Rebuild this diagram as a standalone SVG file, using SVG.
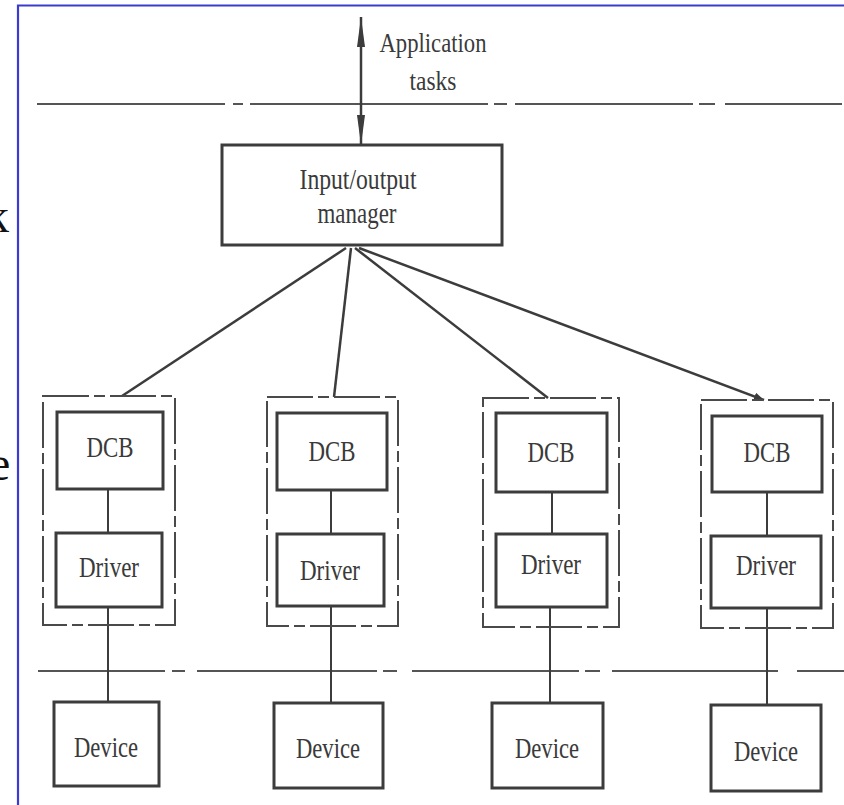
<svg xmlns="http://www.w3.org/2000/svg" width="844" height="805" viewBox="0 0 844 805">
  <style>
    .bg { fill: #ffffff; }
    .frame { stroke: #3b3bcf; stroke-width: 2.2; fill: none; }
    .box { fill: none; stroke: #3c3c3c; stroke-width: 3; }
    .group { fill: none; stroke: #4a4a4a; stroke-width: 2; stroke-dasharray: 46 5 11 5; }
    .rule { fill: none; stroke: #555555; stroke-width: 2.2; }
    .wire { fill: none; stroke: #3c3c3c; stroke-width: 2.5; }
    .link { fill: none; stroke: #3c3c3c; stroke-width: 2; }
    .lbl { font-family: "Liberation Serif", "Times New Roman", serif; fill: #3a3a3a; text-anchor: middle; }
    .big { font-family: "Liberation Serif", "Times New Roman", serif; fill: #111111; font-size: 48px; }
  </style>
  <defs>
    <marker id="head" viewBox="0 0 30 8" refX="30" refY="4" markerWidth="30" markerHeight="8" markerUnits="userSpaceOnUse" orient="auto-start-reverse">
      <path d="M0,0 L30,4 L0,8 Z" fill="#3c3c3c"/>
    </marker>
    <marker id="tick" viewBox="0 0 10 8" refX="10" refY="4" markerWidth="10" markerHeight="8" markerUnits="userSpaceOnUse" orient="auto">
      <path d="M0,0 L10,4 L0,8 Z" fill="#3c3c3c"/>
    </marker>
  </defs>

  <rect class="bg" x="0" y="0" width="844" height="805"/>

  <!-- page frame and clipped margin letters -->
  <path class="frame" d="M18,805 V5.5 H844"/>
  <text class="big" x="-15" y="232">k</text>
  <text class="big" x="-11" y="480">e</text>

  <!-- layer boundaries -->
  <path class="rule" d="M37,104 H225 M233,104 H243 M250,104 H488 M494,104 H507 M515,104 H693 M699,104 H715 M725,104 H842"/>
  <path class="rule" d="M38,671 H165 M172,671 H185 M197,671 H377 M383,671 H397 M412,671 H579 M585,671 H600 M612,671 H778 M797,671 H844"/>

  <!-- connectors -->
  <g id="connectors">
    <line class="wire" x1="361" y1="17" x2="361" y2="145" marker-start="url(#head)" marker-end="url(#head)"/>
    <line class="wire" x1="346" y1="248" x2="122" y2="396"/>
    <line class="wire" x1="351" y1="248" x2="334" y2="397"/>
    <line class="wire" x1="355" y1="248" x2="548" y2="398"/>
    <line class="wire" x1="359" y1="248" x2="764" y2="400" marker-end="url(#tick)"/>
    <line class="link" x1="108" y1="489" x2="108" y2="533"/>
    <line class="link" x1="108" y1="607" x2="108" y2="702"/>
    <line class="link" x1="331" y1="490" x2="331" y2="534"/>
    <line class="link" x1="331" y1="606" x2="331" y2="703"/>
    <line class="link" x1="552" y1="492" x2="552" y2="534"/>
    <line class="link" x1="550" y1="607" x2="550" y2="703"/>
    <line class="link" x1="767" y1="492" x2="767" y2="536"/>
    <line class="link" x1="767" y1="608" x2="767" y2="705"/>
  </g>

  <!-- top labels -->
  <g id="application-tasks">
    <text class="lbl" x="433" y="52" font-size="28" textLength="107" lengthAdjust="spacingAndGlyphs">Application</text>
    <text class="lbl" x="433" y="90" font-size="28" textLength="47" lengthAdjust="spacingAndGlyphs">tasks</text>
  </g>

  <g id="io-manager">
    <rect class="box" x="222" y="145" width="280" height="100"/>
    <text class="lbl" x="358" y="189" font-size="29" textLength="117" lengthAdjust="spacingAndGlyphs">Input/output</text>
    <text class="lbl" x="357" y="223" font-size="29" textLength="79" lengthAdjust="spacingAndGlyphs">manager</text>
  </g>

  <!-- device handler groups -->
  <g id="handler-1">
    <rect class="group" x="43" y="396" width="132" height="229"/>
    <g id="dcb-1">
      <rect class="box" x="57" y="412" width="106" height="77"/>
      <text class="lbl" x="110" y="457" font-size="30" textLength="47" lengthAdjust="spacingAndGlyphs">DCB</text>
    </g>
    <g id="driver-1">
      <rect class="box" x="56" y="533" width="106" height="74"/>
      <text class="lbl" x="109" y="577" font-size="30" textLength="60" lengthAdjust="spacingAndGlyphs">Driver</text>
    </g>
  </g>

  <g id="handler-2">
    <rect class="group" x="267" y="397" width="131" height="229"/>
    <g id="dcb-2">
      <rect class="box" x="277" y="413" width="110" height="77"/>
      <text class="lbl" x="332" y="461" font-size="30" textLength="47" lengthAdjust="spacingAndGlyphs">DCB</text>
    </g>
    <g id="driver-2">
      <rect class="box" x="277" y="534" width="107" height="72"/>
      <text class="lbl" x="330" y="580" font-size="30" textLength="60" lengthAdjust="spacingAndGlyphs">Driver</text>
    </g>
  </g>

  <g id="handler-3">
    <rect class="group" x="483" y="398" width="136" height="229"/>
    <g id="dcb-3">
      <rect class="box" x="496" y="413" width="111" height="79"/>
      <text class="lbl" x="551" y="462" font-size="30" textLength="47" lengthAdjust="spacingAndGlyphs">DCB</text>
    </g>
    <g id="driver-3">
      <rect class="box" x="496" y="534" width="111" height="73"/>
      <text class="lbl" x="551" y="574" font-size="30" textLength="60" lengthAdjust="spacingAndGlyphs">Driver</text>
    </g>
  </g>

  <g id="handler-4">
    <rect class="group" x="701" y="400" width="132" height="228"/>
    <g id="dcb-4">
      <rect class="box" x="712" y="416" width="110" height="76"/>
      <text class="lbl" x="767" y="462" font-size="30" textLength="47" lengthAdjust="spacingAndGlyphs">DCB</text>
    </g>
    <g id="driver-4">
      <rect class="box" x="711" y="536" width="110" height="72"/>
      <text class="lbl" x="766" y="575" font-size="30" textLength="60" lengthAdjust="spacingAndGlyphs">Driver</text>
    </g>
  </g>

  <!-- devices -->
  <g id="device-1">
    <rect class="box" x="54" y="702" width="105" height="84"/>
    <text class="lbl" x="106" y="757" font-size="30" textLength="64" lengthAdjust="spacingAndGlyphs">Device</text>
  </g>
  <g id="device-2">
    <rect class="box" x="274" y="703" width="109" height="85"/>
    <text class="lbl" x="328" y="758" font-size="30" textLength="64" lengthAdjust="spacingAndGlyphs">Device</text>
  </g>
  <g id="device-3">
    <rect class="box" x="492" y="703" width="111" height="85"/>
    <text class="lbl" x="547" y="758" font-size="30" textLength="64" lengthAdjust="spacingAndGlyphs">Device</text>
  </g>
  <g id="device-4">
    <rect class="box" x="711" y="705" width="110" height="86"/>
    <text class="lbl" x="766" y="761" font-size="30" textLength="64" lengthAdjust="spacingAndGlyphs">Device</text>
  </g>
</svg>
